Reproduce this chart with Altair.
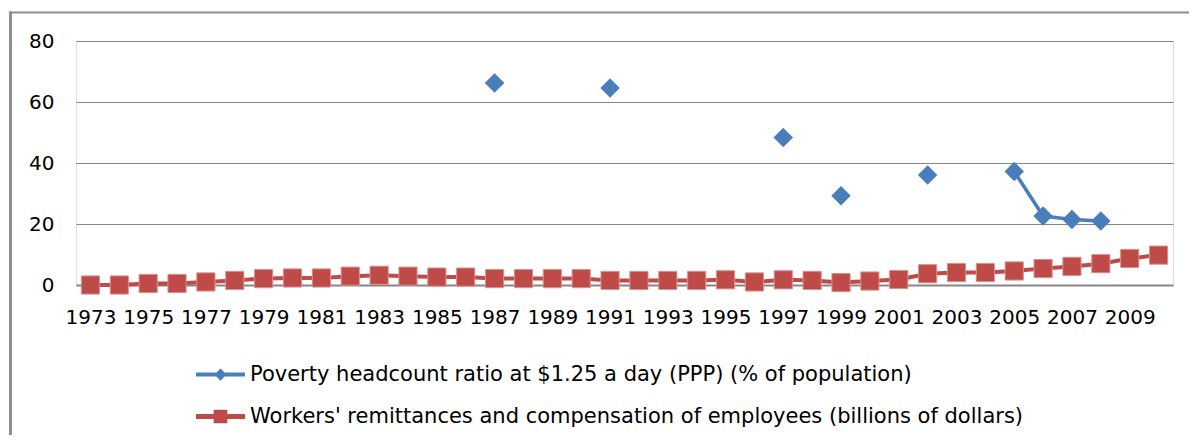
import altair as alt
import pandas as pd

years = [1973, 1974, 1975, 1976, 1977, 1978, 1979, 1980, 1981, 1982,
         1983, 1984, 1985, 1986, 1987, 1988, 1989, 1990, 1991, 1992,
         1993, 1994, 1995, 1996, 1997, 1998, 1999, 2000, 2001, 2002,
         2003, 2004, 2005, 2006, 2007, 2008, 2009, 2010]

poverty = [None, None, None, None, None, None, None, None, None, None,
           None, None, None, None, 66.2, None, None, None, 64.6, None,
           None, None, None, None, 48.4, None, 29.3, None, None, 36.1,
           None, None, 37.2, 22.6, 21.5, 21.0, None, None]

remittances = [0.0, 0.0, 0.5, 0.5, 1.0, 1.5, 2.1, 2.3, 2.3, 2.9,
               3.2, 2.9, 2.6, 2.6, 2.1, 2.1, 2.1, 2.1, 1.5, 1.5,
               1.5, 1.5, 1.7, 1.0, 1.7, 1.5, 0.8, 1.3, 1.8, 3.7,
               4.1, 4.1, 4.6, 5.4, 6.1, 7.0, 8.7, 9.8]

series_names = [
    "Poverty headcount ratio at $1.25 a day (PPP) (% of population)",
    "Workers' remittances and compensation of employees (billions of dollars)",
]
series_colors = ["#4a7ebb", "#be4b48"]
x_label_years = [1973, 1975, 1977, 1979, 1981, 1983, 1985, 1987, 1989, 1991,
                 1993, 1995, 1997, 1999, 2001, 2003, 2005, 2007, 2009]

# legend symbols: line with marker
legend_shapes = [
    "M-1,-0.08H1V0.08H-1Z M0,-0.25L0.25,0L0,0.25L-0.25,0Z",
    "M-1,-0.1H1V0.1H-1Z M-0.28,-0.28H0.28V0.28H-0.28Z",
]

# build tables; segment ids break the line where a year is missing
rows = []
seg = 0
prev = None
for y, v in zip(years, poverty):
    if v is None:
        prev = None
        continue
    if prev is None:
        seg += 1
    rows.append({"year": y, "value": v, "seg": seg, "series": series_names[0]})
    prev = v
pov_df = pd.DataFrame(rows)
rem_df = pd.DataFrame({"year": years, "value": remittances,
                       "series": series_names[1]})
all_df = pd.concat([pov_df, rem_df], ignore_index=True)

FONT = "DejaVu Sans"
W, H = 1097, 244

x_enc = alt.X("year:O", title=None,
              axis=alt.Axis(values=x_label_years, labelAngle=0,
                            labelOverlap=False, labelFlush=False,
                            ticks=False, domain=True, domainColor="#868686",
                            domainWidth=2, labelFont=FONT, labelFontSize=20,
                            labelColor="#000000", labelPadding=22, grid=False))
y_enc = alt.Y("value:Q", title=None,
              scale=alt.Scale(domain=[0, 80], nice=False),
              axis=alt.Axis(values=[0, 20, 40, 60, 80], ticks=False,
                            domain=False, grid=True, gridColor="#868686",
                            gridWidth=1, labelFont=FONT, labelFontSize=20,
                            labelColor="#000000", labelPadding=22))

pov_line = alt.Chart(pov_df).mark_line(
    color=series_colors[0], strokeWidth=3.5
).encode(x=x_enc, y=y_enc, detail="seg:N")

pov_pts = alt.Chart(pov_df).mark_point(
    shape="diamond", filled=True, opacity=1, color=series_colors[0], size=380
).encode(x=x_enc, y=y_enc)

rem_line = alt.Chart(rem_df).mark_line(
    color=series_colors[1], strokeWidth=4
).encode(x=x_enc, y=y_enc)

rem_pts = alt.Chart(rem_df).mark_point(
    shape="square", filled=True, opacity=1, fill=series_colors[1],
    stroke="#d8908e", strokeWidth=1, size=330
).encode(x=x_enc, y=y_enc)

legend_layer = alt.Chart(all_df).transform_filter("false").mark_point(
    filled=True, opacity=1
).encode(
    x=x_enc, y=y_enc,
    color=alt.Color("series:N",
                    scale=alt.Scale(domain=series_names, range=series_colors),
                    legend=alt.Legend(orient="none", legendX=120, legendY=309,
                                      direction="vertical", title=None,
                                      symbolSize=2401, symbolStrokeWidth=0,
                                      labelFont=FONT, labelFontSize=21,
                                      labelColor="#000000", labelLimit=0,
                                      labelOffset=5, rowPadding=7)),
    shape=alt.Shape("series:N",
                    scale=alt.Scale(domain=series_names, range=legend_shapes)),
)

frame_df = pd.DataFrame({"k": [0]})
frame_top = alt.Chart(frame_df).mark_rule(color="#8e8e8e", strokeWidth=2).encode(
    x=alt.value(-67), x2=alt.value(1125), y=alt.value(-28.5))
frame_left = alt.Chart(frame_df).mark_rule(color="#8e8e8e", strokeWidth=3).encode(
    x=alt.value(-65.5), y=alt.value(-29.5), y2=alt.value(410))

chart = alt.layer(
    frame_top, frame_left, rem_line, rem_pts, pov_line, pov_pts, legend_layer
).properties(
    width=W, height=H,
    autosize=alt.AutoSizeParams(type="none"),
    padding={"left": 68, "top": 33, "right": 16, "bottom": 150},
).configure_view(stroke=None).configure(background="#ffffff")

chart.save("out.html", embed_options={"renderer": "svg", "actions": False})
